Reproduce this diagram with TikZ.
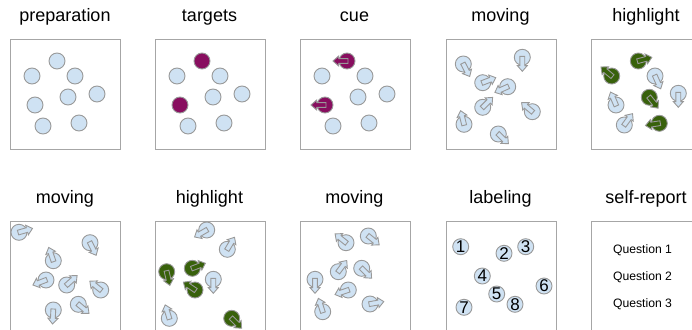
\documentclass[tikz,border=0pt]{standalone}
\usepackage{fontspec}
\setmainfont{Liberation Sans}
\definecolor{ballfill}{HTML}{CFE2F3}
\definecolor{ballline}{HTML}{999999}
\definecolor{boxline}{HTML}{A6A6A6}
\definecolor{tgt}{HTML}{880E5F}
\definecolor{hl}{HTML}{38610B}
\tikzset{
  panel/.style={draw=boxline, line width=1pt, minimum size=110pt, inner sep=0pt, anchor=north west},
  title/.style={anchor=base, font=\fontsize{18}{20}\selectfont},
  ball/.style={circle, draw=ballline, fill=ballfill, line width=0.9pt, minimum size=16pt, inner sep=0pt},
  numball/.style={ball, font=\fontsize{17}{17}\selectfont},
  question/.style={font=\fontsize{12.2}{14}\selectfont},
  arrowpic/.pic={\path[pic actions] (-1,2.4) -- (8.3,2.4) -- (8.3,5) -- (14,0) -- (8.3,-5) -- (8.3,-2.4) -- (-1,-2.4) -- cycle;}
}
% name, position, angle, fill colour
\newcommand\ballarr[4]{%
  \node[ball, fill=#4] (#1) at (#2) {};
  \pic[rotate=#3, draw=ballline, fill=#4, line width=0.9pt] at (#1.center) {arrowpic};
}
\begin{document}
\begin{tikzpicture}[x=1pt, y=-1pt]
\useasboundingbox (0,0) rectangle (692,329);
\clip (0,0) rectangle (692,329);

% titles
\node[title] (t1) at (65,22) {preparation};
\node[title] (t2) at (209.5,22) {targets};
\node[title] (t3) at (354.5,22) {cue};
\node[title] (t4) at (500.5,22) {moving};
\node[title] (t5) at (646,22) {highlight};
\node[title] (t6) at (65,203) {moving};
\node[title] (t7) at (209.5,203) {highlight};
\node[title] (t8) at (354.5,203) {moving};
\node[title] (t9) at (500.5,203) {labeling};
\node[title] (t10) at (646,203) {self-report};

% boxes
\node[panel] (bx1) at (10,39) {};
\node[panel] (bx2) at (155,39) {};
\node[panel] (bx3) at (300,39) {};
\node[panel] (bx4) at (446,39) {};
\node[panel] (bx5) at (591,39) {};
\node[panel] (bx6) at (10,221) {};
\node[panel] (bx7) at (155,221) {};
\node[panel] (bx8) at (300,221) {};
\node[panel] (bx9) at (446,221) {};
\node[panel] (bx10) at (591,221) {};

% panel 1: preparation
\node[ball] (a1) at (57,61) {};
\node[ball] (a2) at (32,76) {};
\node[ball] (a3) at (75,76) {};
\node[ball] (a4) at (97,94) {};
\node[ball] (a5) at (68,97) {};
\node[ball] (a6) at (35,105) {};
\node[ball] (a7) at (43,126) {};
\node[ball] (a8) at (79,123) {};

% panel 2: targets
\node[ball, fill=tgt] (b1) at (202,61) {};
\node[ball] (b2) at (177,76) {};
\node[ball] (b3) at (220,76) {};
\node[ball] (b4) at (242,94) {};
\node[ball] (b5) at (213,97) {};
\node[ball, fill=tgt] (b6) at (180,105) {};
\node[ball] (b7) at (188,126) {};
\node[ball] (b8) at (224,123) {};

% panel 3: cue
\ballarr{c1}{347,61}{180}{tgt}
\node[ball] (c2) at (322,76) {};
\node[ball] (c3) at (365,76) {};
\node[ball] (c4) at (387,94) {};
\node[ball] (c5) at (358,97) {};
\ballarr{c6}{325,105}{180}{tgt}
\node[ball] (c7) at (333,126) {};
\node[ball] (c8) at (369,123) {};

% panel 4: moving
\ballarr{d1}{463.3,64}{-63}{ballfill}
\ballarr{d2}{522.3,57.3}{-90}{ballfill}
\ballarr{d3}{482.7,82.7}{21}{ballfill}
\ballarr{d4}{507.7,86.7}{204}{ballfill}
\ballarr{d5}{482.7,107.3}{45}{ballfill}
\ballarr{d6}{532.3,111.7}{140}{ballfill}
\ballarr{d7}{464,124.3}{104}{ballfill}
\ballarr{d8}{498.3,134}{-44}{ballfill}

% panel 5: highlight
\ballarr{e1}{638.3,61}{15}{hl}
\ballarr{e2}{611.7,76}{140}{hl}
\ballarr{e3}{655,76}{-66}{ballfill}
\ballarr{e4}{678.3,93.3}{-90}{ballfill}
\ballarr{e5}{649.3,97.3}{-51}{hl}
\ballarr{e6}{616,105}{113}{ballfill}
\ballarr{e7}{624.3,125}{54}{ballfill}
\ballarr{e8}{659.3,123.3}{189}{hl}

% panel 6: moving
\ballarr{f1}{19,232.3}{16}{ballfill}
\ballarr{f2}{90,242.7}{-64}{ballfill}
\ballarr{f3}{53.3,260.7}{109}{ballfill}
\ballarr{f4}{46,280}{201}{ballfill}
\ballarr{f5}{66.7,285}{42}{ballfill}
\ballarr{f6}{100.7,290}{141}{ballfill}
\ballarr{f7}{78.3,304.3}{-40}{ballfill}
\ballarr{f8}{53.3,310}{-93}{ballfill}

% panel 7: highlight
\ballarr{g1}{206.7,230}{210}{ballfill}
\ballarr{g2}{227.3,249.3}{59}{ballfill}
\ballarr{g3}{166.7,271.7}{-77}{hl}
\ballarr{g4}{192.3,268.3}{21}{hl}
\ballarr{g5}{213.3,279.3}{-90}{ballfill}
\ballarr{g6}{195,290}{146}{hl}
\ballarr{g7}{169.3,318.3}{107}{ballfill}
\ballarr{g8}{231.7,318.3}{-45}{hl}

% panel 8: moving
\ballarr{h1}{346,242.7}{141}{ballfill}
\ballarr{h2}{368.3,236}{-39}{ballfill}
\ballarr{h3}{338.3,271.7}{53}{ballfill}
\ballarr{h4}{361.7,268.3}{-45}{ballfill}
\ballarr{h5}{315,279.3}{-90}{ballfill}
\ballarr{h6}{348.3,290}{199}{ballfill}
\ballarr{h7}{322.7,311.7}{108}{ballfill}
\ballarr{h8}{370,304}{10}{ballfill}

% panel 9: labeling
\node[numball] (i1) at (460.7,246.7) {1};
\node[numball] (i2) at (504,253.3) {2};
\node[numball] (i3) at (525.7,246.7) {3};
\node[numball] (i4) at (482.3,276) {4};
\node[numball] (i5) at (496.7,294) {5};
\node[numball] (i6) at (544,286) {6};
\node[numball] (i7) at (464,307.3) {7};
\node[numball] (i8) at (515,304.3) {8};

% panel 10: self-report
\node[question] (q1) at (642.5,250.5) {Question 1};
\node[question] (q2) at (642.5,277.3) {Question 2};
\node[question] (q3) at (642.5,304) {Question 3};
\end{tikzpicture}
\end{document}
